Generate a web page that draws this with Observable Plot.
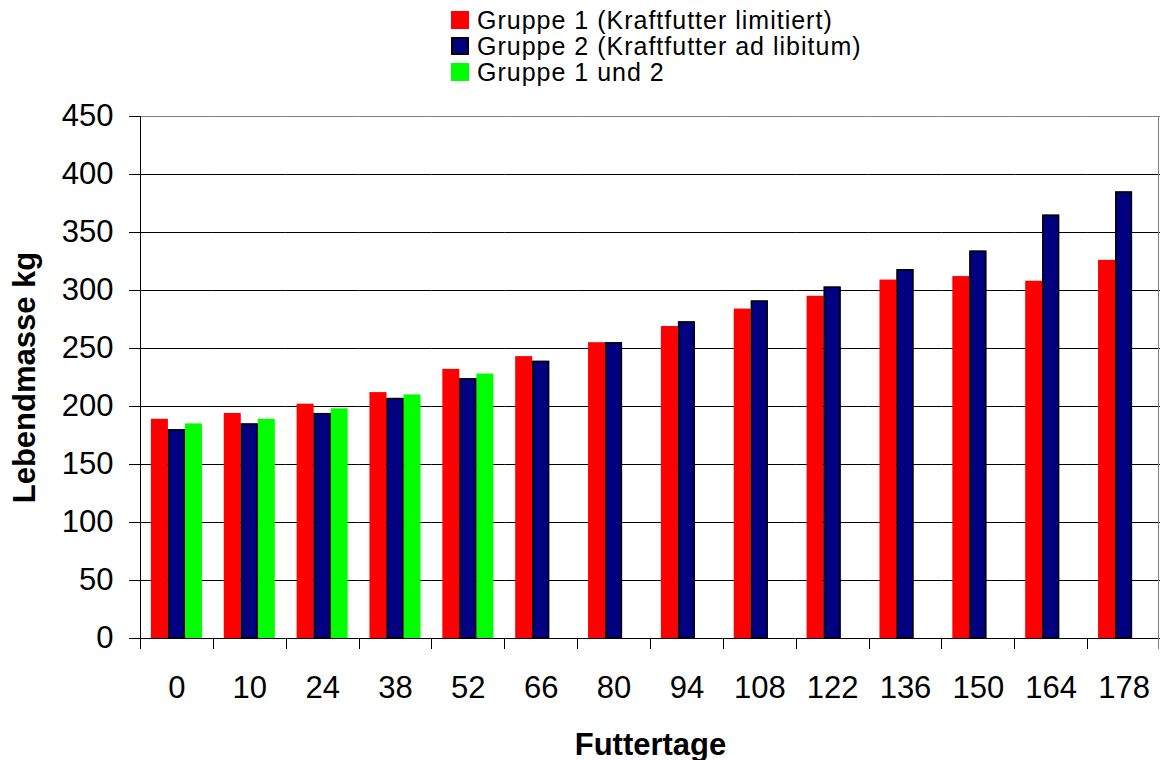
<!DOCTYPE html>
<html>
<head>
<meta charset="utf-8">
<script src="https://cdn.jsdelivr.net/npm/d3@7"></script>
<script src="https://cdn.jsdelivr.net/npm/@observablehq/plot@0.6"></script>
<style>
  body { margin: 0; background: #fff; font-family: "Liberation Sans", Arial, sans-serif; }
  #legend { position: relative; height: 84px; }
  .item { position: absolute; left: 451px; height: 24px; display: flex; align-items: center;
          font-size: 25px; letter-spacing: 1px; color: #000; white-space: nowrap; }
  .item .txt { display: block; height: 24px; line-height: 24px; overflow: visible; }
  .sw { width: 18px; height: 18px; margin-right: 8px; box-sizing: border-box; flex: none; }
</style>
</head>
<body>
<div id="legend"></div>
<div id="chart"></div>
<script>
// Feeding days (category axis)
const days = ["0", "10", "24", "38", "52", "66", "80", "94", "108", "122", "136", "150", "164", "178"];
// Live weight in kg per group
const gruppe1 = [189, 194, 202, 212, 232, 243, 255, 269, 284, 295, 309, 312, 308, 326];
const gruppe2 = [180, 185, 194, 207, 224, 239, 255, 273, 291, 303, 318, 334, 365, 385];
const gruppe12 = [185, 189, 198, 210, 228, null, null, null, null, null, null, null, null, null];
const seriesNames = ["Gruppe 1 (Kraftfutter limitiert)", "Gruppe 2 (Kraftfutter ad libitum)", "Gruppe 1 und 2"];
const seriesColors = ["#ff0000", "#000080", "#00ff00"];
const yTicks = [0, 50, 100, 150, 200, 250, 300, 350, 400, 450];

const seriesValues = [gruppe1, gruppe2, gruppe12];
const rows = [];
days.forEach((day, i) => {
  seriesValues.forEach((vals, s) => {
    if (vals[i] != null) rows.push({day, series: seriesNames[s], value: vals[i]});
  });
});

// Legend
const legend = document.getElementById("legend");
const legendTops = [8, 34, 60];
seriesNames.forEach((name, i) => {
  const item = document.createElement("div");
  item.className = "item";
  item.style.top = legendTops[i] + "px";
  const sw = document.createElement("span");
  sw.className = "sw";
  sw.style.background = seriesColors[i];
  if (i === 1) sw.style.border = "2px solid #000";
  const label = document.createElement("span");
  label.className = "txt";
  label.textContent = name;
  item.append(sw, label);
  legend.append(item);
});

const font = "Liberation Sans, Arial, sans-serif";
const plot = Plot.plot({
  width: 1161,
  height: 676,
  marginTop: 32,
  marginBottom: 122,
  marginLeft: 140,
  marginRight: 1,
  style: {fontFamily: font, background: "white", color: "black", overflow: "visible"},
  fx: {domain: days, padding: 0, round: false},
  x: {domain: seriesNames, paddingInner: 0, paddingOuter: 0.64, round: false, axis: null},
  y: {domain: [0, 450]},
  color: {domain: seriesNames, range: seriesColors},
  marks: [
    Plot.gridY(yTicks.filter((v) => v > 0 && v < 450), {stroke: "black", strokeOpacity: 1}),
    Plot.ruleY([450], {stroke: "#808080"}),
    Plot.barY(rows, {fx: "day", x: "series", y: "value", fill: "series"}),
    Plot.barY(rows.filter((d) => d.series === seriesNames[1]), {
      fx: "day", x: "series", y: "value", fill: "none", stroke: "black", strokeWidth: 1.5,
      insetLeft: 0.75, insetRight: 0.75, insetTop: 0.75
    }),
    Plot.ruleY([0], {stroke: "black"}),
    Plot.axisY(yTicks, {tickSize: 11, tickPadding: 16, fontSize: 31, label: null}),
    Plot.axisY([], {
      tickSize: 0, label: "Lebendmasse kg", labelAnchor: "center", labelOffset: 128,
      labelArrow: "none", fontSize: 31, fontWeight: "bold"
    }),
    Plot.axisFx({anchor: "bottom", tickSize: 0, tickPadding: 37, fontSize: 31, label: null}),
    Plot.axisFx([], {
      anchor: "bottom", tickSize: 0, label: "Futtertage", labelAnchor: "center", labelOffset: 116,
      labelArrow: "none", fontSize: 31, fontWeight: "bold"
    })
  ]
});

// Axis line on the left, border on the right and category separator ticks below the axis
const fx = plot.scale("fx");
const ys = plot.scale("y");
const y0 = ys.apply(0), yTop = ys.apply(450);
const edges = days.map((d) => fx.apply(d));
const xEnd = fx.apply(days[days.length - 1]) + fx.bandwidth;
const g = d3.select(plot).append("g").attr("aria-label", "category-ticks").attr("fill", "none");
const crisp = (v) => Math.round(v) + 0.5;
edges.forEach((x) => {
  g.append("line").attr("x1", crisp(x)).attr("x2", crisp(x)).attr("y1", y0).attr("y2", y0 + 11).attr("stroke", "black");
});
g.append("line").attr("x1", crisp(edges[0])).attr("x2", crisp(edges[0])).attr("y1", yTop).attr("y2", y0).attr("stroke", "black");
g.append("line").attr("x1", crisp(xEnd) - 2).attr("x2", crisp(xEnd) - 2).attr("y1", yTop).attr("y2", y0 + 11).attr("stroke", "#808080");

document.getElementById("chart").append(plot);
</script>
</body>
</html>
